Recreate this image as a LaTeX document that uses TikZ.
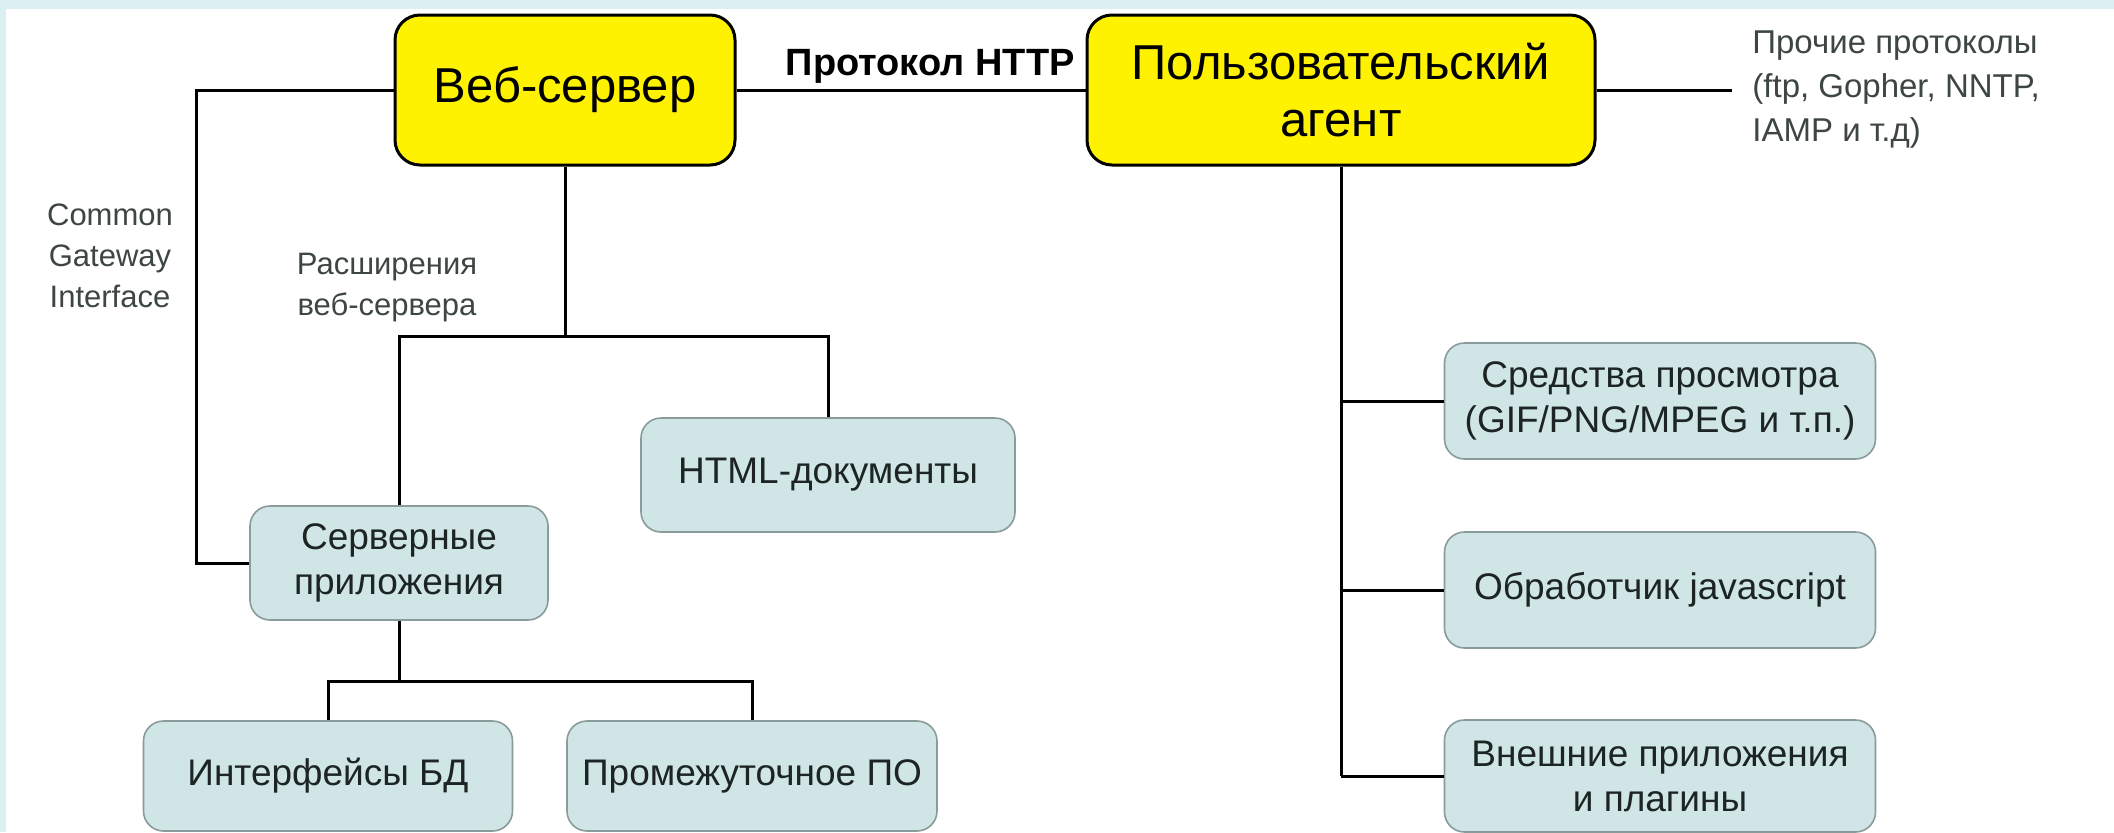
\documentclass[tikz,border=0pt]{standalone}
\usepackage{fontspec}
\setmainfont{Liberation Sans}
\usetikzlibrary{calc}

\definecolor{bandcyan}{HTML}{DAF0F3}
\definecolor{boxteal}{HTML}{D0E5E5}
\definecolor{boxedge}{HTML}{8A9B9B}
\definecolor{inktext}{HTML}{1C2424}

\begin{document}
\begin{tikzpicture}[x=0.5pt, y=-0.5pt,
	mainbox/.style = {draw, line width=1.5pt, fill=yellow, rounded corners=12.5pt,
		minimum width=170pt, minimum height=75pt, inner sep=0pt, align=center,
		font=\fontsize{24.5}{28.5}\selectfont},
	subbox/.style = {draw=boxedge, line width=0.8pt, fill=boxteal, rounded corners=10pt,
		minimum height=56pt, inner sep=0pt, align=center, text=inktext,
		font=\fontsize{18.5}{22.5}\selectfont},
	note/.style = {inner sep=0pt, align=center, text=inktext!85,
		font=\fontsize{15.5}{20.5}\selectfont},
	link/.style = {line width=1.5pt}]
\useasboundingbox (0,0) rectangle (2114,832);
\fill[bandcyan] (0,0) rectangle (2114,832);
\fill[white] (6,9) rectangle (2114,832);

% top level
\node[mainbox] (web) at (565,90) {Веб-сервер};
\node[mainbox, minimum width=254pt] (agent) at (1341,90) {Пользовательский\\агент};
\node[anchor=base east, inner sep=0pt, font=\bfseries\fontsize{19}{23}\selectfont] (http) at (1075,75) {Протокол HTTP};
\node[note, anchor=west, align=left, font=\fontsize{16.5}{22}\selectfont] (other) at (1752,90)
	{Прочие протоколы\\(ftp, Gopher, NNTP,\\IAMP и т.д)};

\node[note] (cgi) at (110,256) {Common\\Gateway\\Interface};
\node[note] (webext) at (387,288) {Расширения\\веб-сервера};

% server side
\node[subbox, minimum width=149pt, minimum height=57pt] (apps) at (399,563) {Серверные\\приложения};
\node[subbox, minimum width=187pt, minimum height=57pt] (html) at (828,475) {HTML-документы};
\node[subbox, minimum width=184.5pt, minimum height=55pt] (dbapi) at (328,776) {Интерфейсы БД};
\node[subbox, minimum width=185pt, minimum height=55pt] (middle) at (752,776) {Промежуточное ПО};

% client side
\node[subbox, minimum width=215.5pt, minimum height=58pt] (viewer) at (1660,401) {Средства просмотра\\(GIF/PNG/MPEG и т.п.)};
\node[subbox, minimum width=215.5pt, minimum height=58pt] (jsproc) at (1660,590) {Обработчик javascript};
\node[subbox, minimum width=215.5pt, minimum height=56pt] (plugins) at (1660,776) {Внешние приложения\\и плагины};

\coordinate (cgibend) at (196,90);
\coordinate (extbus) at (565,336);
\coordinate (appbus) at (399,681);

\draw[link] (web.east) -- (agent.west);
\draw[link] (agent.east) -- ([xshift=-10pt]other.west);
\draw[link] (web.west) -- (cgibend) |- (apps.west);
\draw[link] (web.south) -- (extbus);
\draw[link] (apps.north) |- (extbus) -| (html.north);
\draw[link] (apps.south) -- (appbus);
\draw[link] (dbapi.north) |- (appbus) -| (middle.north);
\draw[link] (agent.south) -- (agent.south |- plugins.west);
\foreach \leaf in {viewer, jsproc, plugins}
	\draw[link] (agent.south |- \leaf.west) -- (\leaf.west);
\end{tikzpicture}
\end{document}
